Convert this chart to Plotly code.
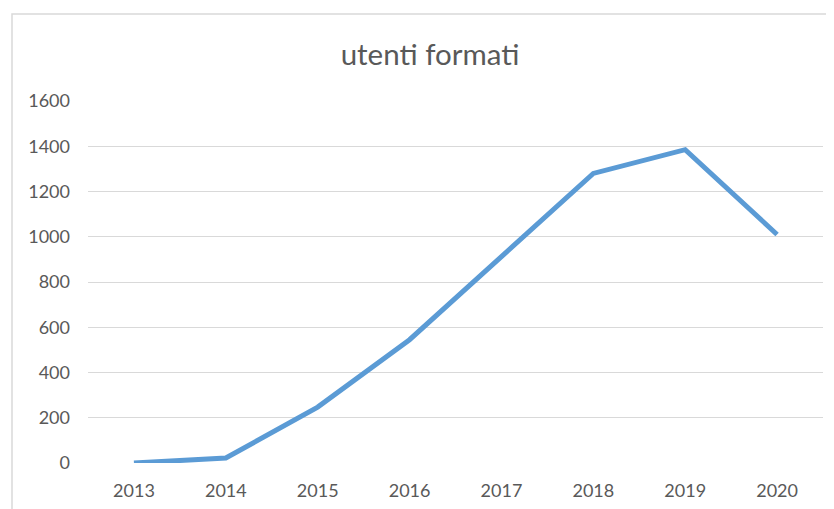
import plotly.graph_objects as go

years = ["2013", "2014", "2015", "2016", "2017", "2018", "2019", "2020"]
utenti = [0, 22, 247, 545, 912, 1280, 1385, 1010]
y_ticks = [0, 200, 400, 600, 800, 1000, 1200, 1400, 1600]

fig = go.Figure()
fig.add_trace(go.Scatter(
    x=years, y=utenti, mode="lines",
    line=dict(color="#5B9BD5", width=5),
    showlegend=False, hoverinfo="x+y",
))

grey = "#595959"
fig.update_layout(
    width=834, height=509,
    margin=dict(l=80, r=19, t=93, b=54),
    paper_bgcolor="white", plot_bgcolor="white",
    font=dict(family="Lato", color=grey, size=18),
    title=dict(text="utenti formati", x=422 / 834, xref="container", xanchor="center",
               y=1 - 47 / 509, yref="container", yanchor="middle",
               font=dict(family="Lato", size=29.5, color=grey)),
    xaxis=dict(type="category", range=[-0.5, 7.5], showgrid=False, zeroline=False,
               showline=False, ticks="", ticklabelstandoff=15,
               tickfont=dict(size=18, color=grey)),
    yaxis=dict(range=[0, 1600], tickvals=y_ticks, showgrid=True, gridcolor="#D9D9D9",
               gridwidth=1.3, zeroline=False, showline=False, ticks="",
               ticklabelstandoff=17, tickfont=dict(size=18, color=grey)),
    shapes=[dict(type="rect", xref="paper", yref="paper",
                 x0=-0.1034, x1=1.2, y0=-0.3, y1=1.2403,
                 line=dict(color="#D9D9D9", width=1.5), fillcolor="rgba(0,0,0,0)",
                 layer="below")],
)

fig.write_html("out.html")
